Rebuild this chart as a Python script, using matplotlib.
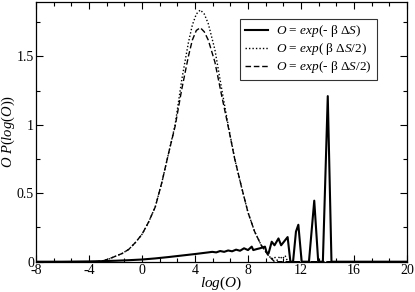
import matplotlib
matplotlib.use("Agg")
import matplotlib.pyplot as plt
from matplotlib.ticker import MultipleLocator, FormatStrFormatter

plt.rcParams['font.family'] = ['Liberation Serif', 'DejaVu Serif']
plt.rcParams['mathtext.fontset'] = 'custom'
plt.rcParams['mathtext.rm'] = 'Liberation Serif'
plt.rcParams['mathtext.it'] = 'Liberation Serif:italic'
plt.rcParams['axes.unicode_minus'] = False

# Solid: O = exp(-beta dS)
x_solid = [-8, -6, -4, -3, -2, -1, 0, 1, 2, 3, 4, 4.5, 5, 5.3, 5.6, 5.9, 6.2, 6.5, 6.8,
           7.1, 7.4, 7.7, 8.0, 8.28, 8.4, 8.65, 8.9, 9.28, 9.4, 9.55, 9.79, 10.0, 10.3,
           10.5, 10.99, 11.2, 11.4, 11.62, 11.8, 12.05, 12.6, 13.0, 13.3, 13.65, 14.02, 14.3, 20]
y_solid = [0, 0.0, 0.002, 0.004, 0.007, 0.011, 0.016, 0.024, 0.034, 0.045, 0.056, 0.062,
           0.068, 0.072, 0.068, 0.078, 0.072, 0.082, 0.076, 0.088, 0.080, 0.098, 0.085,
           0.110, 0.085, 0.092, 0.098, 0.110, 0.07, 0.06, 0.146, 0.12, 0.17, 0.12, 0.18,
           0.0, 0.0, 0.22, 0.27, 0.0, 0.0, 0.446, 0.0, 0.0, 1.21, 0.0, 0.0]

# Dotted: O = exp(beta dS/2)
x_dot = [-8, -3.5, -3, -2.5, -2, -1.5, -1, -0.5, 0, 0.5, 1, 1.5, 2, 2.5, 3, 3.5, 3.8, 4.1,
         4.4, 4.7, 5, 5.5, 6, 6.5, 7, 7.5, 8, 8.5, 9, 9.5, 9.8, 10.0, 10.2, 10.4, 10.6,
         10.8, 11.0, 20]
y_dot = [0, 0, 0.005, 0.02, 0.04, 0.06, 0.09, 0.14, 0.2, 0.29, 0.40, 0.58, 0.79, 1.0,
         1.33, 1.60, 1.73, 1.81, 1.84, 1.81, 1.74, 1.55, 1.27, 1.0, 0.75, 0.55, 0.36,
         0.22, 0.12, 0.05, 0.02, 0.035, 0.01, 0.04, 0.02, 0.045, 0.0, 0.0]

# Dashed: O = exp(-beta dS/2)
x_dash = [-8, -3.5, -3, -2.5, -2, -1.5, -1, -0.5, 0, 0.5, 1, 1.5, 2, 2.5, 3, 3.5, 3.8, 4.1,
          4.4, 4.7, 5, 5.5, 6, 6.5, 7, 7.5, 8, 8.5, 9, 9.5, 9.8, 10.0, 20]
y_dash = [0, 0, 0.005, 0.02, 0.04, 0.06, 0.09, 0.14, 0.2, 0.29, 0.40, 0.58, 0.79, 0.99,
          1.26, 1.50, 1.62, 1.69, 1.71, 1.68, 1.62, 1.46, 1.22, 0.99, 0.75, 0.55, 0.36,
          0.22, 0.12, 0.05, 0.02, 0.0, 0.0]

labels = [r'$O$ = $exp$(- β Δ$S$)', r'$O$ = $exp$( β Δ$S$/2)', r'$O$ = $exp$(- β Δ$S$/2)']

fig = plt.figure(figsize=(4.15, 2.92), dpi=100)
ax = fig.add_axes([36/415, 30.3/292, 371/415, 260/292])

ax.plot(x_solid, y_solid, color='black', lw=1.5, ls='-', label=labels[0])
ax.plot(x_dot, y_dot, color='black', lw=1.0, ls=(0, (1, 1.5)), label=labels[1])
ax.plot(x_dash, y_dash, color='black', lw=1.0, ls=(0, (4, 2)), label=labels[2])

ax.set_xlim(-8, 20)
ax.set_ylim(0, 1.9)
ax.xaxis.set_major_locator(MultipleLocator(4))
ax.xaxis.set_minor_locator(MultipleLocator(4/3))
ax.yaxis.set_major_locator(MultipleLocator(0.5))
ax.yaxis.set_minor_locator(MultipleLocator(0.25))
ax.yaxis.set_major_formatter(FormatStrFormatter('%g'))
ax.xaxis.set_major_formatter(FormatStrFormatter('%g'))
ax.tick_params(which='both', direction='in', top=True, right=True, labelsize=10, pad=1.5)
ax.tick_params(which='major', length=5, width=0.8)
ax.tick_params(which='minor', length=3, width=0.8)
for s in ax.spines.values():
    s.set_linewidth(0.9)

ax.set_xlabel(r'$log(O)$', fontsize=11)
ax.set_ylabel(r'$O\ P(log(O))$', fontsize=10.5)
ax.xaxis.set_label_coords(0.5, -0.05)
ax.yaxis.set_label_coords(-0.05, 0.5)

leg = ax.legend(loc='upper left', bbox_to_anchor=(0.55, 0.935), fontsize=9.5,
                frameon=True, fancybox=False, edgecolor='black', handlelength=1.8,
                handletextpad=0.6, borderpad=0.35, labelspacing=0.15, borderaxespad=0)
leg.get_frame().set_linewidth(0.8)

fig.savefig('out.png', dpi=100)
